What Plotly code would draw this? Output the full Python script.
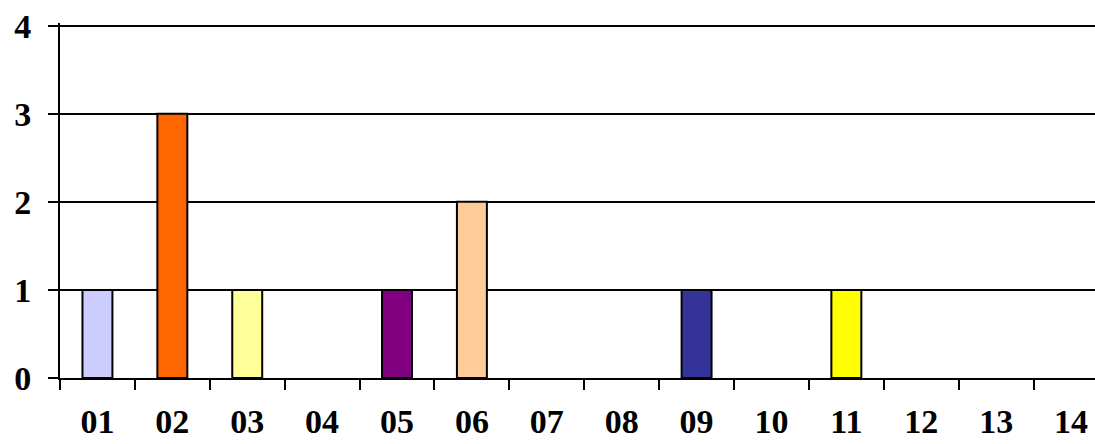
import plotly.graph_objects as go

categories = ["01", "02", "03", "04", "05", "06", "07", "08", "09", "10", "11", "12", "13", "14"]
counts = [1, 3, 1, 0, 1, 2, 0, 0, 1, 0, 1, 0, 0, 0]
bar_colors = ["#CCCCFF", "#FF6600", "#FFFF99", "#FFFFFF", "#800080", "#FFCC99", "#FFFFFF",
              "#FFFFFF", "#333399", "#FFFFFF", "#FFFF00", "#FFFFFF", "#FFFFFF", "#FFFFFF"]
y_ticks = [0, 1, 2, 3, 4]

# empty categories get no outline
outline = [2 if c > 0 else 0 for c in counts]

fig = go.Figure(go.Bar(
    x=categories,
    y=counts,
    width=0.4,
    marker=dict(color=bar_colors, line=dict(color="black", width=outline)),
))

tick_font = dict(family="Liberation Serif", size=34, color="black", weight="bold")

# y range a bit above 4 so plotly keeps the top gridline
fig.update_layout(
    width=1095,
    height=444,
    margin=dict(l=60, r=0, t=23, b=66),
    paper_bgcolor="white",
    plot_bgcolor="white",
    showlegend=False,
    xaxis=dict(
        type="category",
        range=[-0.5, 13.32],
        automargin=False,
        showgrid=False,
        showline=True,
        linecolor="black",
        linewidth=2,
        ticks="outside",
        tickson="boundaries",
        ticklen=10,
        tickwidth=2,
        tickcolor="black",
        tickfont=tick_font,
        ticklabelstandoff=12,
        ticklabeloverflow="allow",
        zeroline=False,
    ),
    yaxis=dict(
        range=[0, 4.03],
        tickvals=y_ticks,
        automargin=False,
        showgrid=True,
        gridcolor="black",
        gridwidth=2,
        showline=True,
        linecolor="black",
        linewidth=2,
        ticks="outside",
        ticklen=10,
        tickwidth=2,
        tickcolor="black",
        tickfont=tick_font,
        ticklabelstandoff=10,
        ticklabeloverflow="allow",
        zeroline=False,
    ),
)

# drop the default 8px page margin so the figure fills the window
fig.write_html("out.html", config={"displayModeBar": False},
               post_script="document.body.style.margin='0';")
